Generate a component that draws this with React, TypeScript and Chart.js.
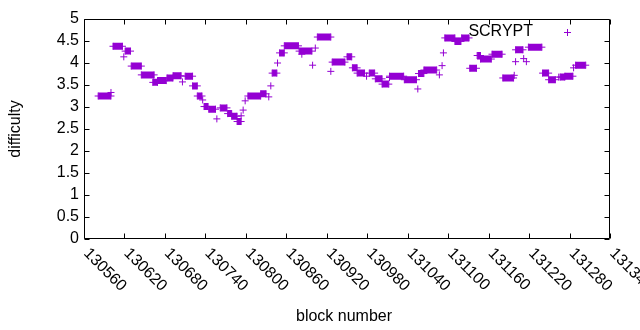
import React, { useEffect, useRef } from 'react';
import { Chart, registerables } from 'chart.js';

Chart.register(...registerables);

// Runs of constant difficulty: first block, last block, value
const runStart = [
  130581, 130603, 130621, 130630, 130645, 130662, 130669, 130683, 130692, 130710,
  130721, 130728, 130738, 130745, 130762, 130773, 130779, 130787, 130803, 130822,
  130839, 130850, 130857, 130879, 130906, 130928, 130950, 130958, 130965, 130983,
  130992, 131002, 131013, 131035, 131056, 131064, 131095, 131110, 131120, 131132,
  131143, 131148, 131165, 131181, 131200, 131219, 131240, 131249, 131266, 131273,
  131289,
];
const runEnd = [
  130600, 130617, 130629, 130645, 130664, 130669, 130682, 130692, 130704, 130721,
  130728, 130735, 130744, 130755, 130772, 130779, 130787, 130793, 130822, 130830,
  130846, 130857, 130878, 130898, 130926, 130947, 130957, 130965, 130976, 130991,
  131002, 131012, 131034, 131053, 131064, 131083, 131110, 131119, 131131, 131142,
  131148, 131164, 131180, 131197, 131211, 131239, 131249, 131259, 131273, 131285,
  131304,
];
const runValue = [
  3.25, 4.38, 4.27, 3.93, 3.73, 3.56, 3.60, 3.66, 3.71, 3.70,
  3.48, 3.25, 3.01, 2.95, 2.98, 2.85, 2.79, 2.67, 3.25, 3.30,
  3.77, 4.23, 4.39, 4.27, 4.59, 4.02, 4.14, 3.89, 3.77, 3.77,
  3.64, 3.52, 3.70, 3.62, 3.76, 3.84, 4.57, 4.49, 4.57, 3.88,
  4.17, 4.09, 4.20, 3.66, 4.30, 4.36, 3.77, 3.62, 3.68, 3.70,
  3.95,
];

// Isolated blocks
const singleBlock = [
  130600, 130619, 130706, 130736, 130757, 130793, 130796, 130799, 130834, 130837,
  130847, 130883, 130899, 130903, 130926, 130979, 131013, 131055, 131087, 131091,
  131093, 131198, 131200, 131212, 131216, 131264, 131286,
];
const singleValue = [
  3.33, 4.14, 3.57, 3.16, 2.73, 2.80, 2.93, 3.14, 3.23, 3.48,
  4.00, 4.20, 3.95, 4.34, 3.81, 3.70, 3.67, 3.41, 3.73, 3.94,
  4.23, 3.72, 4.03, 4.10, 4.03, 3.68, 3.89,
];

const xTicks = [
  130560, 130620, 130680, 130740, 130800, 130860, 130920, 130980,
  131040, 131100, 131160, 131220, 131280, 131340,
];
const yTicks = [0, 0.5, 1, 1.5, 2, 2.5, 3, 3.5, 4, 4.5, 5];

const seriesName = 'SCRYPT';
const xTitle = 'block number';
const yTitle = 'difficulty';

const PURPLE = '#9400d3';
const FONT = '"Liberation Sans", Arial, sans-serif';
const FSIZE = 16;

export default function App() {
  const ref = useRef<HTMLCanvasElement | null>(null);

  useEffect(() => {
    const runData: any[] = [];
    runStart.forEach((s, i) => {
      runData.push({ x: s, y: runValue[i] });
      runData.push({ x: runEnd[i], y: runValue[i] });
      runData.push({ x: runEnd[i], y: null });
    });
    const singles = singleBlock.map((b, i) => ({ x: b, y: singleValue[i] }));

    const frame = {
      id: 'gnuplotFrame',
      afterDraw(chart: any) {
        const { ctx, chartArea: a, scales } = chart;
        const xs = scales.x;
        const ys = scales.y;
        const L = Math.round(a.left) + 0.5;
        const R = Math.round(a.right) - 0.5;
        const T = Math.round(a.top) + 0.5;
        const B = Math.round(a.bottom) - 0.5;
        ctx.save();
        ctx.strokeStyle = '#000';
        ctx.lineWidth = 1;
        ctx.beginPath();
        ctx.rect(L, T, R - L, B - T);
        const tl = 5;
        xTicks.forEach((v) => {
          const px = Math.round(xs.getPixelForValue(v)) + 0.5;
          ctx.moveTo(px, B);
          ctx.lineTo(px, B - tl);
          ctx.moveTo(px, T);
          ctx.lineTo(px, T + tl);
        });
        yTicks.forEach((v) => {
          const py = Math.round(ys.getPixelForValue(v)) + 0.5;
          ctx.moveTo(L, py);
          ctx.lineTo(L + tl, py);
          ctx.moveTo(R, py);
          ctx.lineTo(R - tl, py);
        });
        ctx.stroke();

        ctx.fillStyle = '#000';
        ctx.font = `${FSIZE}px ${FONT}`;
        // x tick labels, rotated -45 (clockwise)
        xTicks.forEach((v) => {
          const px = xs.getPixelForValue(v);
          ctx.save();
          ctx.translate(px + 2, a.bottom + 12);
          ctx.rotate(Math.PI / 4);
          ctx.textAlign = 'left';
          ctx.textBaseline = 'middle';
          ctx.fillText(String(v), 0, 0);
          ctx.restore();
        });
        // axis titles
        ctx.save();
        ctx.translate(16, (a.top + a.bottom) / 2);
        ctx.rotate(-Math.PI / 2);
        ctx.textAlign = 'center';
        ctx.textBaseline = 'middle';
        ctx.fillText(yTitle, 0, 0);
        ctx.restore();
        ctx.textAlign = 'center';
        ctx.textBaseline = 'alphabetic';
        ctx.fillText(xTitle, 344, 320.5);

        // key
        ctx.textAlign = 'right';
        ctx.textBaseline = 'middle';
        ctx.fillText(seriesName, 533, 32);
        ctx.strokeStyle = PURPLE;
        ctx.beginPath();
        const kx = 567.5;
        const ky = 32.5;
        ctx.moveTo(kx - 3.5, ky);
        ctx.lineTo(kx + 3.5, ky);
        ctx.moveTo(kx, ky - 3.5);
        ctx.lineTo(kx, ky + 3.5);
        ctx.stroke();
        ctx.restore();
      },
    };

    const chart = new Chart(ref.current as HTMLCanvasElement, {
      type: 'scatter',
      data: {
        datasets: [
          {
            label: seriesName,
            data: runData,
            showLine: true,
            spanGaps: false,
            borderColor: PURPLE,
            backgroundColor: PURPLE,
            borderWidth: 7,
            borderCapStyle: 'butt',
            pointStyle: 'cross',
            pointRadius: 3.5,
            pointHoverRadius: 3.5,
            pointBorderWidth: 1,
            pointBorderColor: PURPLE,
          } as any,
          {
            label: seriesName,
            data: singles,
            showLine: false,
            borderColor: PURPLE,
            backgroundColor: PURPLE,
            pointStyle: 'cross',
            pointRadius: 3.5,
            pointHoverRadius: 3.5,
            pointBorderWidth: 1,
            pointBorderColor: PURPLE,
          } as any,
        ],
      },
      options: {
        animation: false,
        responsive: false,
        devicePixelRatio: 1,
        events: [],
        layout: { padding: { top: 19, right: 30, left: 0, bottom: 0 } },
        plugins: {
          legend: { display: false },
          tooltip: { enabled: false },
        },
        scales: {
          x: {
            type: 'linear',
            min: 130560,
            max: 131340,
            grid: { display: false, drawTicks: false },
            border: { display: false },
            ticks: { display: false },
            afterFit: (s: any) => {
              s.height = 91;
            },
          },
          y: {
            type: 'linear',
            min: 0,
            max: 5,
            afterBuildTicks: (s: any) => {
              s.ticks = yTicks.map((v) => ({ value: v }));
            },
            grid: { display: false, drawTicks: false },
            border: { display: false },
            ticks: {
              color: '#000',
              padding: 5,
              autoSkip: false,
              font: { family: FONT, size: FSIZE },
              callback: (v: any) => String(v),
            },
            afterFit: (s: any) => {
              s.width = 84;
            },
          },
        },
      } as any,
      plugins: [frame],
    });
    return () => chart.destroy();
  }, []);

  return (
    <div style={{ position: 'absolute', left: 0, top: 0, width: 640, height: 330, background: '#fff' }}>
      <canvas ref={ref} width={640} height={330} style={{ display: 'block' }} />
    </div>
  );
}
